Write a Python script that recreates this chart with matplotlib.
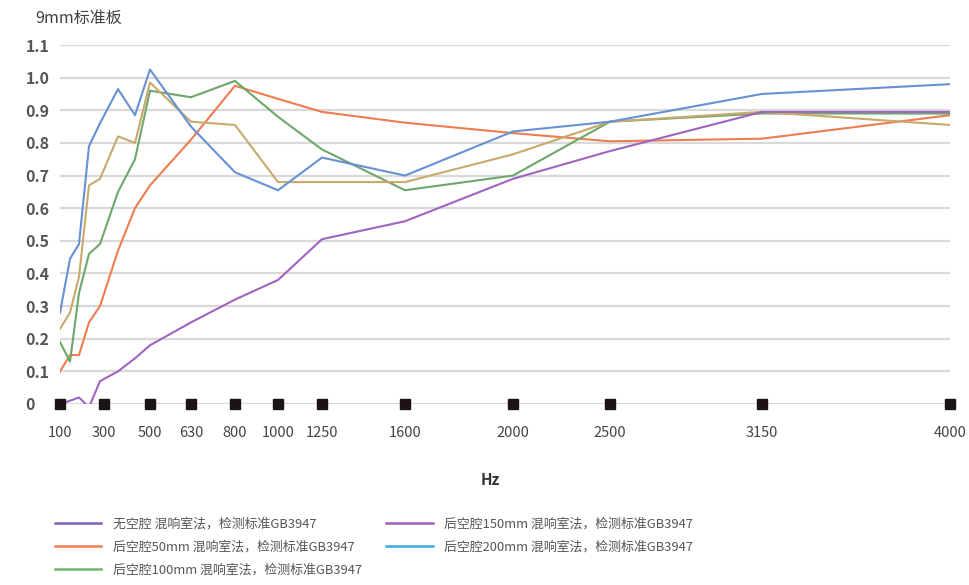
import numpy as np
import matplotlib
matplotlib.use("Agg")
import matplotlib.pyplot as plt
from matplotlib.lines import Line2D

plt.rcParams['font.family'] = ['Noto Sans CJK SC', 'DejaVu Sans']

# 1/3 octave bands, Hz
bands = [100, 125, 160, 200, 250, 315, 400, 500, 630, 800, 1000, 1250, 1600, 2000, 2500, 3150, 4000]

# absorption coefficients
no_cavity = [0.0, 0.01, 0.02, -0.01, 0.07, 0.10, 0.14, 0.18, 0.25, 0.32, 0.38, 0.505, 0.56, 0.69, 0.775, 0.895, 0.895]
cavity_50 = [0.10, 0.15, 0.15, 0.25, 0.30, 0.47, 0.60, 0.67, 0.81, 0.975, 0.935, 0.895, 0.862, 0.83, 0.805, 0.813, 0.885]
cavity_100 = [0.19, 0.13, 0.34, 0.46, 0.49, 0.65, 0.75, 0.96, 0.94, 0.99, 0.88, 0.78, 0.655, 0.70, 0.865, 0.89, 0.89]
cavity_150 = [0.23, 0.28, 0.39, 0.67, 0.69, 0.82, 0.80, 0.985, 0.865, 0.855, 0.68, 0.68, 0.68, 0.765, 0.865, 0.895, 0.855]
cavity_200 = [0.28, 0.445, 0.49, 0.79, 0.86, 0.965, 0.885, 1.025, 0.85, 0.71, 0.655, 0.755, 0.70, 0.835, 0.865, 0.95, 0.98]

tick_hz = [100, 300, 500, 630, 800, 1000, 1250, 1600, 2000, 2500, 3150, 4000]
y_ticks = [0, 0.1, 0.2, 0.3, 0.4, 0.5, 0.6, 0.7, 0.8, 0.9, 1.0, 1.1]
y_labels = ["0", "0.1", "0.2", "0.3", "0.4", "0.5", "0.6", "0.7", "0.8", "0.9", "1.0", "1.1"]

legend_labels = [
    "无空腔 混响室法，检测标准GB3947",
    "后空腔50mm 混响室法，检测标准GB3947",
    "后空腔100mm 混响室法，检测标准GB3947",
    "后空腔150mm 混响室法，检测标准GB3947",
    "后空腔200mm 混响室法，检测标准GB3947",
]

# the original axis is warped, so use a piecewise scale
knot_hz = [100, 125, 160, 200, 250, 300, 315, 400, 500, 630, 800, 1000, 1250, 1600, 2000, 2500, 3150, 4000]
knot_pos = [60, 70, 79, 89, 100, 104, 118, 135, 150, 191, 235, 278, 322, 405, 513, 610, 762, 950]


def fwd(x):
    return np.interp(x, knot_hz, knot_pos)


def inv(p):
    return np.interp(p, knot_pos, knot_hz)


fig = plt.figure(figsize=(9.69, 5.85), dpi=100)
ax = fig.add_axes([60 / 969, 1 - 404 / 585, 890 / 969, 359 / 585])
ax.set_xscale('function', functions=(fwd, inv))

ax.plot(bands, cavity_50, color="#ee7d4f", lw=1.5)
ax.plot(bands, cavity_100, color="#6ea76a", lw=1.5)
ax.plot(bands, cavity_150, color="#c8a96c", lw=1.5)
ax.plot(bands, cavity_200, color="#6791d4", lw=1.5)
ax.plot(bands, no_cavity, color="#a063bf", lw=1.5)

ax.plot(tick_hz, [0] * len(tick_hz), ls="none", marker="s", ms=7, color="#1c1414", clip_on=False, zorder=5)

ax.set_xlim(100, 4000)
ax.set_ylim(0, 1.1)
ax.set_yticks(y_ticks)
ax.set_yticklabels(y_labels, fontsize=11.5, color="#555555", fontweight="bold")
for lab in ax.get_yticklabels():
    lab.set_ha("left")
ax.tick_params(axis="y", length=0, pad=25)

ax.set_xticks(tick_hz)
ax.set_xticklabels([str(t) for t in tick_hz], fontsize=10.5, color="#444444")
ax.xaxis.set_minor_locator(matplotlib.ticker.NullLocator())
ax.tick_params(axis="x", length=0, pad=16)
ax.set_xlabel("Hz", fontsize=11, fontweight="bold", color="#333333")
ax.xaxis.set_label_coords((490 - 60) / 890, (404 - 480) / 359)
ax.xaxis.label.set_va("center")

ax.yaxis.grid(True, color="#d9d9d9", lw=1.6)
ax.set_axisbelow(True)
for s in ax.spines.values():
    s.set_visible(False)

fig.text(35 / 969, 1 - 18 / 585, "9mm标准板", fontsize=11.5, color="#404040", va="center")

legend_colors = ["#7f5fb9", "#f08050", "#6db86d", "#a060b8", "#3caae8"]
handles = [Line2D([], [], color=c, lw=1.8) for c in legend_colors]
fig.legend(handles, legend_labels, loc="upper left", bbox_to_anchor=(43 / 969, 1 - 506 / 585),
           ncol=2, frameon=False, fontsize=9.3, handlelength=3.6, handletextpad=0.9,
           columnspacing=1.9, labelspacing=0.78, labelcolor="#555555")

fig.savefig("out.png", dpi=100)
